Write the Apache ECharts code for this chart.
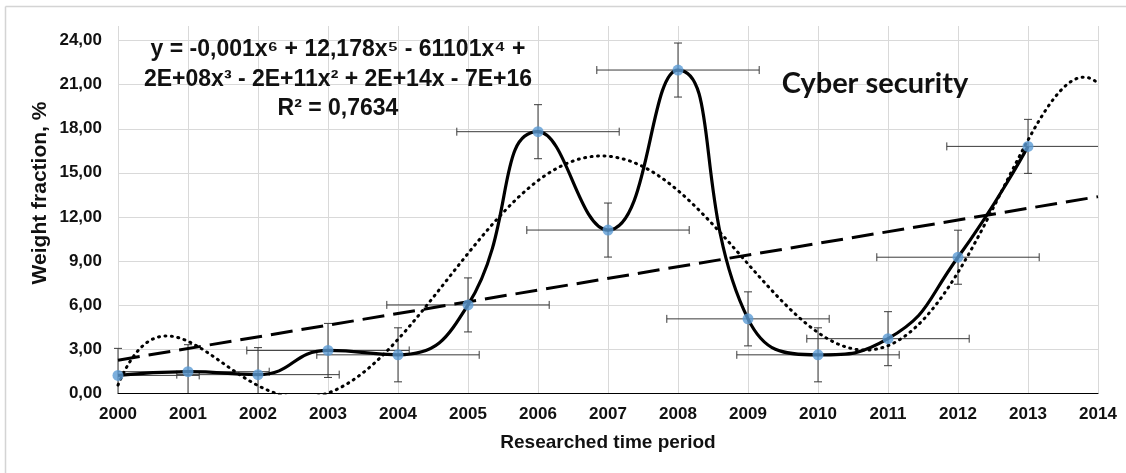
<!DOCTYPE html>
<html>
<head>
<meta charset="utf-8">
<script src="https://cdn.jsdelivr.net/npm/echarts@6/dist/echarts.min.js"></script>
<style>
html,body{margin:0;padding:0;background:#fff;}
#chart{width:1126px;height:473px;}
</style>
</head>
<body>
<div id="chart"></div>
<script>
// ---- data ----
var years = [2000, 2001, 2002, 2003, 2004, 2005, 2006, 2007, 2008, 2009, 2010, 2011, 2012, 2013];
var weights = [1.2, 1.45, 1.25, 2.9, 2.6, 6.0, 17.8, 11.1, 22.0, 5.05, 2.6, 3.7, 9.25, 16.8];
var yErrors = [1.84, 1.84, 1.84, 1.84, 1.84, 1.84, 1.84, 1.84, 1.84, 1.84, 1.84, 1.84, 1.84, 1.84];
var xErrors = [1.16, 1.16, 1.16, 1.16, 1.16, 1.16, 1.16, 1.16, 1.16, 1.16, 1.16, 1.16, 1.16, 1.16];
var xTicks = [2000, 2014, 1];          // min, max, step
var yTicks = [0, 24, 3];               // first, last labelled, step
var equationLines = [
  'y = -0,001x\u2076 + 12,178x\u2075 - 61101x\u2074 +',
  '2E+08x\u00B3 - 2E+11x\u00B2 + 2E+14x - 7E+16',
  'R\u00B2 = 0,7634'
];
var seriesLabel = 'Cyber security';
var xTitle = 'Researched time period';
var yTitle = 'Weight fraction, %';

// ---- trend lines computed from the data (least squares, as the spreadsheet does) ----
function polyfit(xs, ys, deg) {
  var n = deg + 1, A = [], b = [];
  for (var i = 0; i < n; i++) { A.push(new Array(n).fill(0)); b.push(0); }
  for (var k = 0; k < xs.length; k++) {
    for (var i = 0; i < n; i++) {
      b[i] += Math.pow(xs[k], i) * ys[k];
      for (var j = 0; j < n; j++) A[i][j] += Math.pow(xs[k], i + j);
    }
  }
  for (var c = 0; c < n; c++) {
    var p = c;
    for (var r = c + 1; r < n; r++) if (Math.abs(A[r][c]) > Math.abs(A[p][c])) p = r;
    var t = A[c]; A[c] = A[p]; A[p] = t; var tb = b[c]; b[c] = b[p]; b[p] = tb;
    for (var r = c + 1; r < n; r++) {
      var f = A[r][c] / A[c][c];
      for (var j = c; j < n; j++) A[r][j] -= f * A[c][j];
      b[r] -= f * b[c];
    }
  }
  var coef = new Array(n).fill(0);
  for (var i = n - 1; i >= 0; i--) {
    var s = b[i];
    for (var j = i + 1; j < n; j++) s -= A[i][j] * coef[j];
    coef[i] = s / A[i][i];
  }
  return coef;
}
function polyval(coef, x) { var s = 0; for (var i = coef.length - 1; i >= 0; i--) s = s * x + coef[i]; return s; }

var x0 = years[0], span = years[years.length - 1] - years[0];
var ts = years.map(function (y) { return (y - x0) / span; });
var poly6 = polyfit(ts, weights, 6);
var lin = polyfit(ts, weights, 1);
var polyCurve = [];
for (var x = xTicks[0]; x <= xTicks[1] + 1e-9; x += 0.02) {
  polyCurve.push([x, polyval(poly6, (x - x0) / span)]);
}
var linLine = [[xTicks[0], polyval(lin, (xTicks[0] - x0) / span)], [xTicks[1], polyval(lin, (xTicks[1] - x0) / span)]];

var points = years.map(function (y, i) { return [y, weights[i]]; });
var errData = years.map(function (y, i) { return [y, weights[i], xErrors[i], yErrors[i]]; });

var chart = echarts.init(document.getElementById('chart'), null, { renderer: 'canvas' });
var labelFont = '"Liberation Sans", Arial, sans-serif';
var CAP = 4;

function renderErr(params, api) {
  var cs = params.coordSys;
  var left = cs.x, right = cs.x + cs.width, bottom = cs.y + cs.height;
  var xv = api.value(0), yv = api.value(1), dx = api.value(2), dy = api.value(3);
  var c = api.coord([xv, yv]);
  var pxL = api.coord([xv - dx, yv])[0], pxR = api.coord([xv + dx, yv])[0];
  var pyT = api.coord([xv, yv + dy])[1], pyB = api.coord([xv, yv - dy])[1];
  var st = { stroke: '#3a3a3a', lineWidth: 1 };
  var children = [];
  function seg(x1, y1, x2, y2) { children.push({ type: 'line', shape: { x1: x1, y1: y1, x2: x2, y2: y2 }, style: st }); }
  var l = Math.max(pxL, left), r = Math.min(pxR, right);
  seg(l, c[1], r, c[1]);
  if (pxL >= left) seg(pxL, c[1] - CAP, pxL, c[1] + CAP);
  if (pxR <= right) seg(pxR, c[1] - CAP, pxR, c[1] + CAP);
  var t = Math.max(pyT, cs.y), b = Math.min(pyB, bottom);
  seg(c[0], t, c[0], b);
  if (pyT >= cs.y) seg(c[0] - CAP, pyT, c[0] + CAP, pyT);
  if (pyB <= bottom) seg(c[0] - CAP, pyB, c[0] + CAP, pyB);
  return { type: 'group', children: children };
}

var option = {
  animation: false,
  backgroundColor: '#ffffff',
  grid: { left: 118, right: 28, top: 26, bottom: 80, containLabel: false },
  xAxis: {
    type: 'value', min: xTicks[0], max: xTicks[1], interval: xTicks[2],
    axisLine: { show: true, onZero: false, lineStyle: { color: '#000', width: 1.2 } },
    axisTick: { show: false },
    axisLabel: { color: '#111', fontFamily: labelFont, fontWeight: 'bold', fontSize: 17, margin: 13,
      formatter: function (v) { return String(v); } },
    splitLine: { show: true, lineStyle: { color: '#d9d9d9', width: 1 } }
  },
  yAxis: {
    type: 'value', min: yTicks[0], max: 25, interval: yTicks[2],
    axisLine: { show: false },
    axisTick: { show: false },
    axisLabel: { color: '#111', fontFamily: labelFont, fontWeight: 'bold', fontSize: 17, margin: 16,
      showMaxLabel: false,
      formatter: function (v) { return v > yTicks[1] ? '' : v.toFixed(2).replace('.', ','); } },
    splitLine: { show: true, showMaxLine: false, lineStyle: { color: '#d9d9d9', width: 1 } }
  },
  series: [
    { type: 'custom', renderItem: renderErr, data: errData, z: 2, silent: true,
      encode: { x: 0, y: 1 } },
    { type: 'line', data: polyCurve, showSymbol: false, clip: true, z: 3, silent: true,
      lineStyle: { color: '#000', width: 3, type: [1, 5.5], cap: 'round' } },
    { type: 'line', data: linLine, showSymbol: false, clip: true, z: 3, silent: true,
      lineStyle: { color: '#000', width: 3, type: [22, 9], cap: 'butt' } },
    { type: 'line', data: points, smooth: 0.5, showSymbol: false, clip: true, z: 4, silent: true,
      lineStyle: { color: '#000', width: 3.2 } },
    { type: 'scatter', data: points, symbol: 'circle', symbolSize: 11, z: 5, silent: true,
      itemStyle: { color: '#5b9bd5' } }
  ],
  graphic: [
    { type: 'line', shape: { x1: 5.5, y1: 6.5, x2: 1126, y2: 6.5 }, style: { stroke: '#d4d4d4', lineWidth: 1.5 } },
    { type: 'line', shape: { x1: 5.5, y1: 6.5, x2: 5.5, y2: 473 }, style: { stroke: '#d4d4d4', lineWidth: 1.5 } },
    { type: 'text', x: 338, y: 50, z: 10, style: { text: equationLines[0], font: 'bold 23px ' + labelFont, fill: '#111', textAlign: 'center', textVerticalAlign: 'middle' } },
    { type: 'text', x: 338, y: 80, z: 10, style: { text: equationLines[1], font: 'bold 23px ' + labelFont, fill: '#111', textAlign: 'center', textVerticalAlign: 'middle' } },
    { type: 'text', x: 338, y: 109, z: 10, style: { text: equationLines[2], font: 'bold 23px ' + labelFont, fill: '#111', textAlign: 'center', textVerticalAlign: 'middle' } },
    { type: 'text', x: 875, y: 84, z: 10, style: { text: seriesLabel, font: 'bold 29px Lato, "Open Sans", sans-serif', fill: '#111', textAlign: 'center', textVerticalAlign: 'middle' } },
    { type: 'text', x: 608, y: 443, style: { text: xTitle, font: 'bold 19px ' + labelFont, fill: '#111', textAlign: 'center', textVerticalAlign: 'middle' } },
    { type: 'text', x: 40, y: 193, rotation: Math.PI / 2, style: { text: yTitle, font: 'bold 21px ' + labelFont, fill: '#111', textAlign: 'center', textVerticalAlign: 'middle' } }
  ]
};
chart.setOption(option);
</script>
</body>
</html>
